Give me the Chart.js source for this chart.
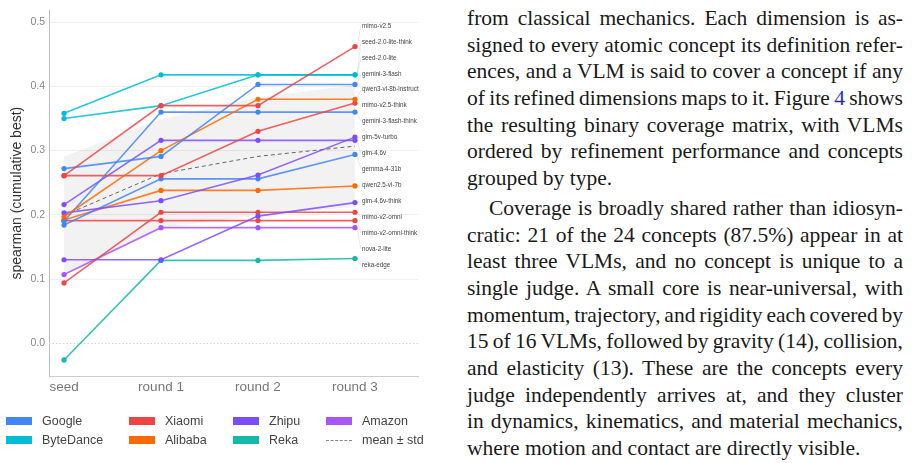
<!DOCTYPE html>
<html><head><meta charset="utf-8">
<script src="https://cdn.jsdelivr.net/npm/chart.js@4.4.1/dist/chart.umd.min.js"></script>
<style>
html,body{margin:0;padding:0;background:#fff;}
body{width:913px;height:463px;position:relative;overflow:hidden;font-family:"Liberation Sans",Arial,sans-serif;}
#chartBox{position:absolute;left:0;top:0;width:430px;height:400px;}
#legend{position:absolute;left:0;top:0;width:430px;height:463px;pointer-events:none;}
.lgBox{position:absolute;width:26px;height:8px;}
.lgDash{position:absolute;width:26px;height:0;border-top:1px dashed #888;}
.lgTxt{position:absolute;font-size:12.5px;color:#444;line-height:14px;white-space:nowrap;}
#text{position:absolute;left:467px;top:0;width:436px;height:463px;font-family:"Liberation Serif","Times New Roman",serif;font-size:21.5px;color:#1a1a1a;}
.ln{position:absolute;left:0;white-space:pre;line-height:26.67px;}
.ref{color:#2e2ea6;}
</style>
</head>
<body>
<div id="chartBox"><canvas id="c" width="430" height="400"></canvas></div>
<div id="legend"></div>
<div id="text"></div>
<script>
// ---------------- data ----------------
const rounds = ['seed', 'round 1', 'round 2', 'round 3'];
const models = ['mimo-v2.5', 'seed-2.0-lite-think', 'seed-2.0-lite', 'gemini-3-flash',
  'qwen3-vl-8b-instruct', 'mimo-v2.5-think', 'gemini-3-flash-think', 'glm-5v-turbo',
  'glm-4.6v', 'gemma-4-31b', 'qwen2.5-vl-7b', 'glm-4.6v-think', 'mimo-v2-omni',
  'mimo-v2-omni-think', 'nova-2-lite', 'reka-edge'];
const modelCompany = ['Xiaomi', 'ByteDance', 'ByteDance', 'Google',
  'Alibaba', 'Xiaomi', 'Google', 'Zhipu',
  'Zhipu', 'Google', 'Alibaba', 'Zhipu', 'Xiaomi',
  'Xiaomi', 'Amazon', 'Reka'];
const seedScores   = [0.261, 0.358, 0.350, 0.272, 0.197, 0.261, 0.190, 0.203, 0.216, 0.184, 0.192, 0.130, 0.094, 0.191, 0.107, -0.026];
const round1Scores = [0.370, 0.418, 0.370, 0.291, 0.300, 0.261, 0.360, 0.222, 0.316, 0.256, 0.238, 0.130, 0.204, 0.191, 0.180, 0.129];
const round2Scores = [0.370, 0.418, 0.418, 0.403, 0.380, 0.330, 0.360, 0.262, 0.316, 0.256, 0.238, 0.198, 0.204, 0.191, 0.180, 0.129];
const round3Scores = [0.462, 0.418, 0.418, 0.403, 0.380, 0.374, 0.360, 0.321, 0.316, 0.294, 0.245, 0.219, 0.204, 0.191, 0.180, 0.132];
const meanScores   = [0.199, 0.264, 0.291, 0.307];
const meanPlusStd  = [0.291, 0.349, 0.383, 0.402];
const meanMinusStd = [0.107, 0.180, 0.199, 0.212];
const yTickValues  = [0.0, 0.1, 0.2, 0.3, 0.4, 0.5];
const companies     = ['Google', 'ByteDance', 'Xiaomi', 'Alibaba', 'Zhipu', 'Reka', 'Amazon'];
const companyColors = ['#4285f4', '#00bcd4', '#ef4444', '#ff6a00', '#7c4dff', '#14b8a6', '#a855f7'];
const yTitle = 'spearman (cumulative best)';
const bandLabel = 'mean \u00b1 std';

// ---------------- helpers ----------------
function rgba(hex, a) {
  const n = parseInt(hex.slice(1), 16);
  return 'rgba(' + (n >> 16) + ',' + ((n >> 8) & 255) + ',' + (n & 255) + ',' + a + ')';
}
const colorOf = c => companyColors[companies.indexOf(c)];
const scoreTable = [seedScores, round1Scores, round2Scores, round3Scores];
const series = arr => rounds.map((_, i) => ({ x: i, y: arr[i] }));

const datasets = [];
datasets.push({ label: 'upper', data: series(meanPlusStd), borderWidth: 0, borderColor: 'transparent',
  pointRadius: 0, fill: false, order: 100 });
datasets.push({ label: 'lower', data: series(meanMinusStd), borderWidth: 0, borderColor: 'transparent',
  pointRadius: 0, fill: '-1', backgroundColor: 'rgba(0,0,0,0.05)', order: 99 });
datasets.push({ label: 'mean', data: series(meanScores), borderWidth: 1, borderColor: '#666',
  borderDash: [4, 3], pointRadius: 0, fill: false, order: 50 });
models.forEach((m, k) => {
  const col = colorOf(modelCompany[k]);
  datasets.push({
    label: m,
    data: rounds.map((_, i) => ({ x: i, y: scoreTable[i][k] })),
    borderColor: rgba(col, 0.85), backgroundColor: col,
    pointBackgroundColor: col, pointBorderWidth: 0, pointRadius: 2.6,
    borderWidth: 1.6, fill: false, tension: 0, order: k
  });
});

// zero dotted line + end labels
const extras = {
  id: 'extras',
  beforeDatasetsDraw(chart) {
    const { ctx, chartArea: a, scales: { y } } = chart;
    const py = Math.round(y.getPixelForValue(0)) + 0.5;
    ctx.save();
    ctx.strokeStyle = '#d4d4d4'; ctx.lineWidth = 1; ctx.setLineDash([1.5, 2]);
    ctx.beginPath(); ctx.moveTo(a.left, py); ctx.lineTo(a.right, py); ctx.stroke();
    ctx.restore();
  },
  afterDatasetsDraw(chart) {
    const { ctx, scales: { x, y } } = chart;
    const idx = models.map((_, i) => i).sort((a, b) => round3Scores[b] - round3Scores[a]);
    const labTop = 0.494, labBot = 0.122;
    const last = rounds.length - 1;
    const px = x.getPixelForValue(last);
    const lx = px + 7;
    ctx.save();
    ctx.font = '6.3px "Liberation Sans", Arial, sans-serif';
    ctx.textBaseline = 'middle';
    idx.forEach((k, j) => {
      const vy = y.getPixelForValue(round3Scores[k]);
      const ly = y.getPixelForValue(labTop - j * (labTop - labBot) / (idx.length - 1));
      ctx.strokeStyle = 'rgba(0,0,0,0.13)'; ctx.lineWidth = 0.7;
      ctx.beginPath(); ctx.moveTo(px + 2, vy); ctx.lineTo(lx - 1, ly); ctx.stroke();
      ctx.fillStyle = '#444';
      ctx.fillText(models[k], lx, ly);
    });
    ctx.restore();
  }
};

new Chart(document.getElementById('c'), {
  type: 'line',
  data: { datasets },
  options: {
    responsive: false, animation: false, devicePixelRatio: 1,
    layout: { padding: { left: 0, top: 7, right: 12, bottom: 0 }, autoPadding: false },
    plugins: { legend: { display: false }, tooltip: { enabled: false } },
    scales: {
      x: {
        type: 'linear', min: -0.155, max: 3.65,
        afterBuildTicks: s => { s.ticks = rounds.map((_, i) => ({ value: i })); },
        afterFit: s => { s.height = 24; },
        ticks: { callback: v => rounds[v] ?? '', color: '#777', padding: 3,
          font: { size: 13.5, family: '"Liberation Sans", Arial, sans-serif' }, maxRotation: 0, autoSkip: false },
        grid: { display: false, drawTicks: false },
        border: { display: true, color: '#cccccc', width: 1 }
      },
      y: {
        type: 'linear', min: -0.051, max: 0.5185,
        afterBuildTicks: s => { s.ticks = yTickValues.map(v => ({ value: v })); },
        afterFit: s => { s.width = 49; },
        ticks: { callback: v => v.toFixed(1), color: '#888', padding: 4,
          font: { size: 10.5, family: '"Liberation Sans", Arial, sans-serif' } },
        grid: { drawTicks: false, color: c => (c.tick && c.tick.value === 0) ? 'rgba(0,0,0,0)' : '#efefef', lineWidth: 1 },
        border: { display: true, color: '#bbbbbb', width: 1 },
        title: { display: true, text: yTitle, color: '#333', padding: { top: 8.6, bottom: 0 },
          font: { size: 14, family: '"Liberation Sans", Arial, sans-serif' } }
      }
    }
  },
  plugins: [extras]
});

// ---------------- legend (HTML) ----------------
const lg = document.getElementById('legend');
const colLeft = [6, 129, 233, 326];
const rowTop = [417, 436];
const legendItems = companies.map((c, i) => ({ text: c, color: companyColors[i] }));
legendItems.push({ text: bandLabel, dashed: true });
legendItems.forEach((it, i) => {
  const col = Math.floor(i / 2), row = i % 2;
  const bx = colLeft[col], by = rowTop[row];
  const m = document.createElement('div');
  if (it.dashed) { m.className = 'lgDash'; m.style.left = bx + 'px'; m.style.top = (by + 4) + 'px'; }
  else { m.className = 'lgBox'; m.style.left = bx + 'px'; m.style.top = by + 'px'; m.style.background = it.color; }
  lg.appendChild(m);
  const t = document.createElement('div');
  t.className = 'lgTxt'; t.textContent = it.text;
  t.style.left = (bx + 36) + 'px'; t.style.top = (by - 3) + 'px';
  lg.appendChild(t);
});

// ---------------- paper text ----------------
const para1 = [
  'from classical mechanics. Each dimension is as-',
  'signed to every atomic concept its definition refer-',
  'ences, and a VLM is said to cover a concept if any',
  'of its refined dimensions maps to it. Figure {4} shows',
  'the resulting binary coverage matrix, with VLMs',
  'ordered by refinement performance and concepts',
  'grouped by type.'
];
const para2 = [
  'Coverage is broadly shared rather than idiosyn-',
  'cratic: 21 of the 24 concepts (87.5%) appear in at',
  'least three VLMs, and no concept is unique to a',
  'single judge. A small core is near-universal, with',
  'momentum, trajectory, and rigidity each covered by',
  '15 of 16 VLMs, followed by gravity (14), collision,',
  'and elasticity (13). These are the concepts every',
  'judge independently arrives at, and they cluster',
  'in dynamics, kinematics, and material mechanics,',
  'where motion and contact are directly visible.'
];
const tx = document.getElementById('text');
const LH = 26.67, colW = 436, indent = 22;
function addPara(lines, top, firstIndent) {
  lines.forEach((s, i) => {
    const d = document.createElement('div');
    d.className = 'ln';
    const parts = s.split(/\{|\}/);
    parts.forEach((p, j) => {
      if (j % 2 === 1) { const sp = document.createElement('span'); sp.className = 'ref'; sp.textContent = p; d.appendChild(sp); }
      else d.appendChild(document.createTextNode(p));
    });
    const left = i === 0 ? firstIndent : 0;
    d.style.left = left + 'px';
    d.style.top = (top + i * LH) + 'px';
    tx.appendChild(d);
    if (i < lines.length - 1) {
      const w = d.getBoundingClientRect().width;
      const spaces = (s.match(/ /g) || []).length;
      if (spaces > 0) d.style.wordSpacing = ((colW - left - w) / spaces) + 'px';
    }
  });
}
addPara(para1, 5, 0);
addPara(para2, 195, indent);
</script>
</body></html>
